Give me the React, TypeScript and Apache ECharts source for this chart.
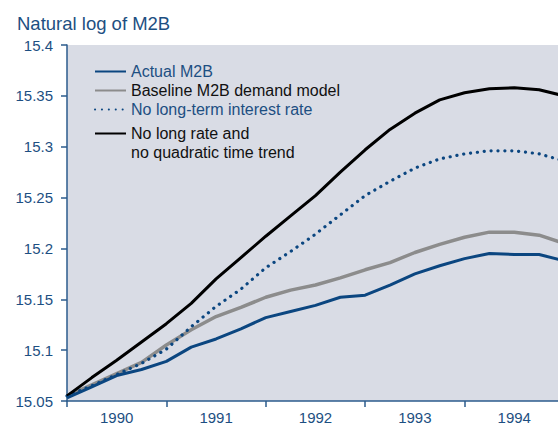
import React, { useEffect, useRef } from "react";
import * as echarts from "echarts";

const startYear = 1990;
const quarterStep = 0.25;

const actualM2B = [15.053, 15.064, 15.075, 15.081, 15.089, 15.103, 15.111, 15.121, 15.132, 15.138, 15.144, 15.152, 15.154, 15.164, 15.175, 15.183, 15.19, 15.195, 15.194, 15.194, 15.188];
const baselineModel = [15.055, 15.066, 15.077, 15.088, 15.105, 15.12, 15.133, 15.142, 15.152, 15.159, 15.164, 15.171, 15.179, 15.186, 15.196, 15.204, 15.211, 15.216, 15.216, 15.213, 15.205];
const noLongRate = [15.055, 15.065, 15.076, 15.087, 15.101, 15.123, 15.143, 15.16, 15.181, 15.197, 15.214, 15.233, 15.252, 15.266, 15.279, 15.288, 15.293, 15.296, 15.296, 15.293, 15.286];
const noLongRateNoTrend = [15.055, 15.073, 15.09, 15.108, 15.126, 15.146, 15.17, 15.191, 15.212, 15.232, 15.252, 15.275, 15.297, 15.317, 15.333, 15.346, 15.353, 15.357, 15.358, 15.356, 15.35];

const yearTicks = [1990, 1991, 1992, 1993, 1994];
const yearLabelPositions = [1990.5, 1991.5, 1992.5, 1993.5, 1994.5];

const seriesNames = [
  "Actual M2B",
  "Baseline M2B demand model",
  "No long-term interest rate",
  "No long rate and\nno quadratic time trend",
];

const toPairs = (vals: number[]) => vals.map((v, i) => [startYear + i * quarterStep, v]);

const BLUE = "#0b4680";
const TEXT_BLUE = "#1d4f82";
const FONT = "'Liberation Sans', Arial, Helvetica, sans-serif";

const legendBase = {
  orient: "vertical",
  left: 89,
  itemWidth: 31,
  itemHeight: 14,
  itemGap: 0,
  selectedMode: false,
  itemStyle: { opacity: 0 },
  textStyle: { fontSize: 16, lineHeight: 19, fontFamily: FONT, color: "#000" },
};

export default function App() {
  const ref = useRef<HTMLDivElement>(null);
  useEffect(() => {
    if (!ref.current) return;
    const chart = echarts.init(ref.current, undefined, { renderer: "svg" });
    chart.setOption({
      animation: false,
      backgroundColor: "#ffffff",
      textStyle: { fontFamily: FONT },
      title: {
        text: "Natural log of M2B",
        left: 12,
        top: 9,
        textStyle: { color: TEXT_BLUE, fontSize: 18.5, fontWeight: "normal", fontFamily: FONT },
      },
      grid: {
        left: 67,
        right: 0,
        top: 45,
        bottom: 23,
        show: true,
        backgroundColor: "#d9dce5",
        borderWidth: 0,
      },
      legend: [
        {
          ...legendBase,
          top: 57,
          data: [
            { name: seriesNames[0], textStyle: { color: TEXT_BLUE } },
            { name: seriesNames[1], textStyle: { color: "#111" } },
            { name: seriesNames[2], textStyle: { color: TEXT_BLUE } },
          ],
        },
        {
          ...legendBase,
          top: 100,
          formatter: (name: string) => " \n" + name,
          data: [{ name: seriesNames[3], textStyle: { color: "#111" } }],
        },
      ],
      xAxis: {
        type: "value",
        min: 1990,
        max: 1994.94,
        splitLine: { show: false },
        axisLine: { show: true, lineStyle: { color: "#2b5b8c", width: 1.5 } },
        axisTick: {
          show: true,
          length: 6,
          customValues: yearTicks,
          lineStyle: { color: "#2b5b8c", width: 1.5 },
        },
        axisLabel: {
          customValues: yearLabelPositions,
          formatter: (v: number) => String(Math.floor(v)),
          color: TEXT_BLUE,
          fontSize: 15,
          margin: 9,
          fontFamily: FONT,
        },
      },
      yAxis: {
        type: "value",
        min: 15.05,
        max: 15.4,
        interval: 0.05,
        splitLine: { show: false },
        axisLine: { show: true, lineStyle: { color: "#2b5b8c", width: 1.5 } },
        axisTick: { show: true, length: 6, lineStyle: { color: "#2b5b8c", width: 1.5 } },
        axisLabel: {
          color: TEXT_BLUE,
          fontSize: 15,
          margin: 14,
          fontFamily: FONT,
          formatter: (v: number) => String(parseFloat(v.toFixed(2))),
        },
      },
      series: [
        {
          name: seriesNames[1],
          type: "line",
          symbol: "none",
          data: toPairs(baselineModel),
          lineStyle: { color: "#8c8c8c", width: 3.5 },
          itemStyle: { color: "#8c8c8c" },
        },
        {
          name: seriesNames[2],
          type: "line",
          symbol: "none",
          data: toPairs(noLongRate),
          lineStyle: { color: BLUE, width: 3.2, type: [0.1, 6.8], cap: "round" },
          itemStyle: { color: BLUE },
        },
        {
          name: seriesNames[3],
          type: "line",
          symbol: "none",
          data: toPairs(noLongRateNoTrend),
          lineStyle: { color: "#000000", width: 3 },
          itemStyle: { color: "#000000" },
        },
        {
          name: seriesNames[0],
          type: "line",
          symbol: "none",
          data: toPairs(actualM2B),
          lineStyle: { color: BLUE, width: 3 },
          itemStyle: { color: BLUE },
        },
      ],
    });
    return () => chart.dispose();
  }, []);
  return (
    <div
      ref={ref}
      style={{ position: "fixed", left: 0, top: 0, width: 558, height: 425, background: "#fff" }}
    />
  );
}
